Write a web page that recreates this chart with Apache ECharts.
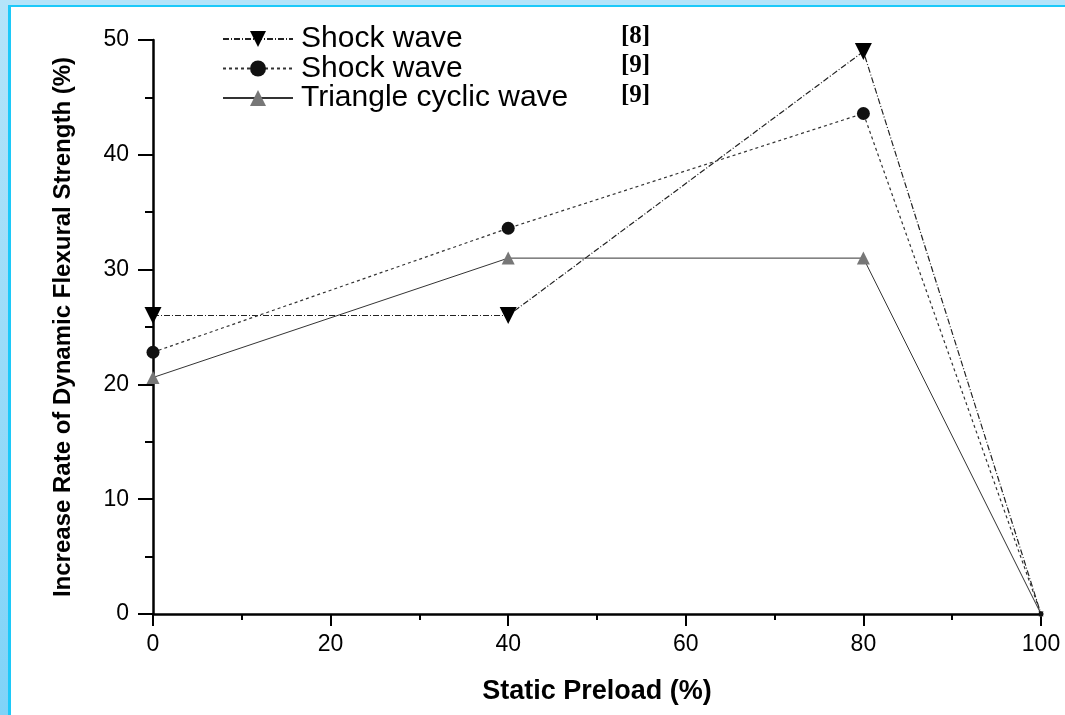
<!DOCTYPE html>
<html>
<head>
<meta charset="utf-8">
<script src="https://cdn.jsdelivr.net/npm/echarts@6/dist/echarts.min.js"></script>
<style>
  html, body { margin: 0; padding: 0; background: #fff; }
  #chart { width: 1065px; height: 715px; }
</style>
</head>
<body>
<div id="chart"></div>
<script>
// static preload (%) on x
var preload = [0, 40, 80, 100];
// increase rate of dynamic flexural strength (%)
var shock8 = [26, 26, 49, 0];
var shock9 = [22.8, 33.6, 43.6, 0];
var triCyclic = [20.6, 31, 31, 0];

var seriesNames = ['Shock wave [8]', 'Shock wave [9]', 'Triangle cyclic wave [9]'];
var legendText = {
  'Shock wave [8]': ['Shock wave', '[8]'],
  'Shock wave [9]': ['Shock wave', '[9]'],
  'Triangle cyclic wave [9]': ['Triangle cyclic wave', '[9]']
};

function pairs(ys) {
  var out = [];
  for (var i = 0; i < preload.length; i++) {
    out.push([preload[i], ys[i]]);
  }
  return out;
}

// markers at the 100% point are barely visible in the original
function markerSize(big) {
  return function (val) {
    return val[0] === 100 ? 5 : big;
  };
}

var chart = echarts.init(document.getElementById('chart'));

var option = {
  backgroundColor: '#fff',
  animation: false,
  grid: { left: 153, right: 24, top: 40, bottom: 101 },
  legend: {
    orient: 'vertical',
    left: 222,
    top: 24,
    padding: 0,
    itemGap: -0.5,
    itemWidth: 70,
    itemHeight: 20,
    data: seriesNames,
    formatter: function (name) {
      var t = legendText[name];
      return '{n|' + t[0] + '}{r|' + t[1] + '}';
    },
    textStyle: {
      rich: {
        n: { fontFamily: 'Liberation Sans', fontSize: 30, color: '#000', width: 320, padding: [0, 0, 0, 3] },
        r: { fontFamily: 'Liberation Serif', fontWeight: 'bold', fontSize: 25, color: '#000', padding: [0, 0, 5, 0] }
      }
    }
  },
  xAxis: {
    type: 'value',
    min: 0,
    max: 100,
    interval: 20,
    name: 'Static Preload (%)',
    nameLocation: 'middle',
    nameGap: 64,
    nameTextStyle: { fontFamily: 'Liberation Sans', fontWeight: 'bold', fontSize: 27, color: '#000' },
    axisLine: { lineStyle: { color: '#000', width: 2.5 } },
    axisTick: { show: true, length: 12, lineStyle: { color: '#000', width: 2 } },
    minorTick: { show: true, splitNumber: 2, length: 6, lineStyle: { color: '#000', width: 2 } },
    splitLine: { show: false },
    axisLabel: { margin: 19, fontFamily: 'Liberation Sans', fontSize: 23, color: '#000' }
  },
  yAxis: {
    type: 'value',
    min: 0,
    max: 50,
    interval: 10,
    name: 'Increase Rate of Dynamic Flexural Strength (%)',
    nameLocation: 'middle',
    nameGap: 78,
    nameTextStyle: { fontFamily: 'Liberation Sans', fontWeight: 'bold', fontSize: 24, color: '#000' },
    axisLine: { show: true, lineStyle: { color: '#000', width: 2.5 } },
    axisTick: { show: true, length: 15, lineStyle: { color: '#000', width: 2 } },
    minorTick: { show: true, splitNumber: 2, length: 8, lineStyle: { color: '#000', width: 2 } },
    splitLine: { show: false },
    axisLabel: { margin: 24, fontFamily: 'Liberation Sans', fontSize: 23, color: '#000' }
  },
  series: [
    {
      name: seriesNames[0],
      type: 'line',
      data: pairs(shock8),
      symbol: 'triangle',
      symbolRotate: 180,
      symbolSize: markerSize(17),
      itemStyle: { color: '#000' },
      lineStyle: { color: '#222', width: 1.2, type: [6, 2, 1, 2] },
      z: 3
    },
    {
      name: seriesNames[1],
      type: 'line',
      data: pairs(shock9),
      symbol: 'circle',
      symbolSize: markerSize(13),
      itemStyle: { color: '#111' },
      lineStyle: { color: '#333', width: 1.2, type: [3, 3] },
      z: 3
    },
    {
      name: seriesNames[2],
      type: 'line',
      data: pairs(triCyclic),
      symbol: 'triangle',
      symbolSize: markerSize(13),
      itemStyle: { color: '#777' },
      lineStyle: { color: '#333', width: 1 },
      z: 2
    }
  ],
  graphic: [
    { type: 'rect', shape: { x: 0, y: 0, width: 1065, height: 5 }, style: { fill: '#b4e4fa' }, silent: true },
    { type: 'rect', shape: { x: 0, y: 0, width: 8, height: 715 },
      style: { fill: new echarts.graphic.LinearGradient(0, 0, 0, 1, [
        { offset: 0, color: '#b4e4fa' }, { offset: 1, color: '#7fd3f8' }]) }, silent: true },
    { type: 'rect', shape: { x: 8, y: 5, width: 1057, height: 2 }, style: { fill: '#1cc9f9' }, silent: true },
    { type: 'rect', shape: { x: 8, y: 5, width: 3, height: 710 }, style: { fill: '#1cc9f9' }, silent: true }
  ]
};

chart.setOption(option);
</script>
</body>
</html>
